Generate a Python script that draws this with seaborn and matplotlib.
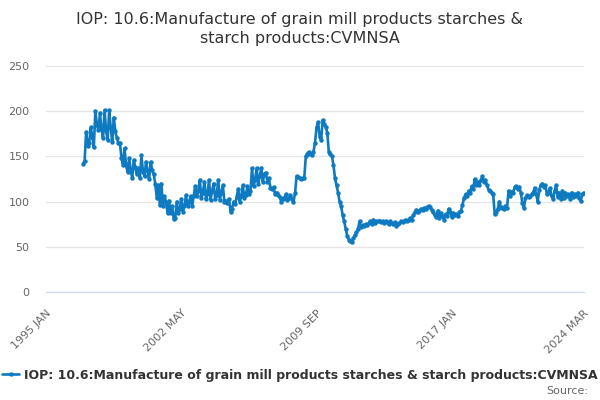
import numpy as np
import pandas as pd
import matplotlib
matplotlib.use("Agg")
import matplotlib.pyplot as plt
import seaborn as sns

title = "IOP: 10.6:Manufacture of grain mill products starches &\nstarch products:CVMNSA"
series_name = "IOP: 10.6:Manufacture of grain mill products starches & starch products:CVMNSA"
first_month = "1995-01"
last_month = "2024-03"
data_start = "1997-01"
tick_labels = ["1995 JAN", "2002 MAY", "2009 SEP", "2017 JAN", "2024 MAR"]
yticks = [0, 50, 100, 150, 200, 250]

# monthly index values, one row per year from 1997
values = [
    142, 145, 177, 161, 165, 182, 172, 160, 200, 185, 179, 198,  # 1997
    180, 170, 201, 178, 168, 201, 182, 166, 193, 178, 170, 165,  # 1998
    165, 148, 141, 159, 140, 133, 148, 135, 126, 146, 138, 130,  # 1999
    137, 126, 151, 133, 128, 144, 134, 125, 144, 135, 130, 120,  # 2000
    104, 118, 96, 120, 95, 106, 100, 87, 101, 87, 95, 81,  # 2001
    82, 100, 87, 92, 103, 89, 95, 107, 95, 100, 106, 95,  # 2002
    106, 117, 106, 112, 124, 104, 110, 122, 103, 108, 124, 102,  # 2003
    112, 120, 103, 107, 124, 102, 110, 118, 100, 101, 98, 103,  # 2004
    89, 92, 100, 97, 105, 114, 100, 106, 118, 104, 107, 117,  # 2005
    108, 112, 137, 117, 124, 137, 120, 128, 137, 122, 130, 132,  # 2006
    122, 126, 115, 114, 116, 108, 110, 107, 105, 100, 103, 104,  # 2007
    108, 102, 104, 107, 103, 100, 109, 128, 127, 126, 125, 126,  # 2008
    126, 150, 153, 155, 153, 152, 155, 165, 182, 188, 172, 168,  # 2009
    190, 186, 183, 176, 155, 153, 150, 141, 126, 118, 110, 100,  # 2010
    95, 85, 78, 70, 62, 58, 56, 55, 60, 63, 66, 70,  # 2011
    78, 72, 74, 73, 75, 74, 76, 78, 75, 80, 76, 78,  # 2012
    78, 79, 77, 78, 76, 78, 77, 75, 78, 76, 75, 77,  # 2013
    73, 75, 76, 78, 77, 79, 80, 78, 80, 82, 80, 85,  # 2014
    88, 91, 89, 90, 92, 91, 93, 92, 94, 95, 94, 91,  # 2015
    88, 85, 83, 90, 82, 87, 84, 80, 86, 84, 92, 88,  # 2016
    83, 87, 85, 86, 84, 88, 90, 96, 104, 108, 106, 112,  # 2017
    110, 117, 114, 125, 118, 122, 118, 124, 128, 122, 124, 118,  # 2018
    113, 112, 110, 108, 86, 88, 92, 100, 94, 93, 92, 95,  # 2019
    93, 112, 106, 111, 110, 116, 117, 114, 116, 110, 98, 93,  # 2020
    104, 107, 105, 106, 108, 110, 115, 108, 100, 113, 118, 120,  # 2021
    116, 118, 108, 110, 115, 106, 103, 112, 118, 105, 110, 103,  # 2022
    112, 104, 110, 106, 108, 103, 110, 105, 108, 106, 110, 104,  # 2023
    101, 108, 110,  # 2024
]

blue = "#0d7ac2"
grey_txt = "#666666"
dark_txt = "#333333"

months = pd.period_range(first_month, last_month, freq="M")
month_labels = list(months.strftime("%Y %b").str.upper())
offset = months.get_loc(pd.Period(data_start, "M"))
df = pd.DataFrame({"pos": np.arange(offset, offset + len(values)), "value": values})

sns.set_style("white")
plt.rcParams["font.family"] = ["DejaVu Sans"]

fig = plt.figure(figsize=(6, 4), dpi=100)
ax = fig.add_axes([0.077, 0.27, 0.896, 0.565])

sns.lineplot(data=df, x="pos", y="value", ax=ax, color=blue, linewidth=1.9,
             marker="o", markersize=3.2, markeredgewidth=0, label=series_name)

ax.set_xlim(0, len(months) - 1)
ax.set_ylim(0, 250)
ax.set_yticks(yticks)
ax.set_yticklabels([str(v) for v in yticks], color=grey_txt, fontsize=8)
ax.yaxis.grid(True, color="#e6e6e6", linewidth=1)
ax.tick_params(axis="y", length=0, pad=12)

major = [month_labels.index(t) for t in tick_labels]
minor = [p for p in range(0, len(months), 22) if p not in major]
ax.set_xticks(major)
ax.set_xticklabels(tick_labels, rotation=45, ha="right", rotation_mode="anchor",
                   color=grey_txt, fontsize=8)
ax.set_xticks(minor, minor=True)
ax.tick_params(axis="x", which="both", length=8, color="#ccd6eb", width=1)
ax.set_xlabel("")
ax.set_ylabel("")

for s in ["top", "right", "left"]:
    ax.spines[s].set_visible(False)
ax.spines["bottom"].set_color("#ccd6eb")

fig.text(0.5, 1 - 29 / 400, title, ha="center", va="center", fontsize=11.5,
         color=dark_txt, linespacing=1.35)

ax.get_legend().remove()
handles, labels = ax.get_legend_handles_labels()
leg = fig.legend(handles, labels, loc="center", bbox_to_anchor=(0.5, 1 - 375 / 400),
                 frameon=False, handlelength=1.4, handletextpad=0.4,
                 prop={"weight": "bold", "size": 9})
for t in leg.get_texts():
    t.set_color(dark_txt)

fig.text(0.98, 1 - 391 / 400, "Source:", ha="right", va="center", fontsize=8, color=grey_txt)

fig.savefig("out.png", dpi=100)
